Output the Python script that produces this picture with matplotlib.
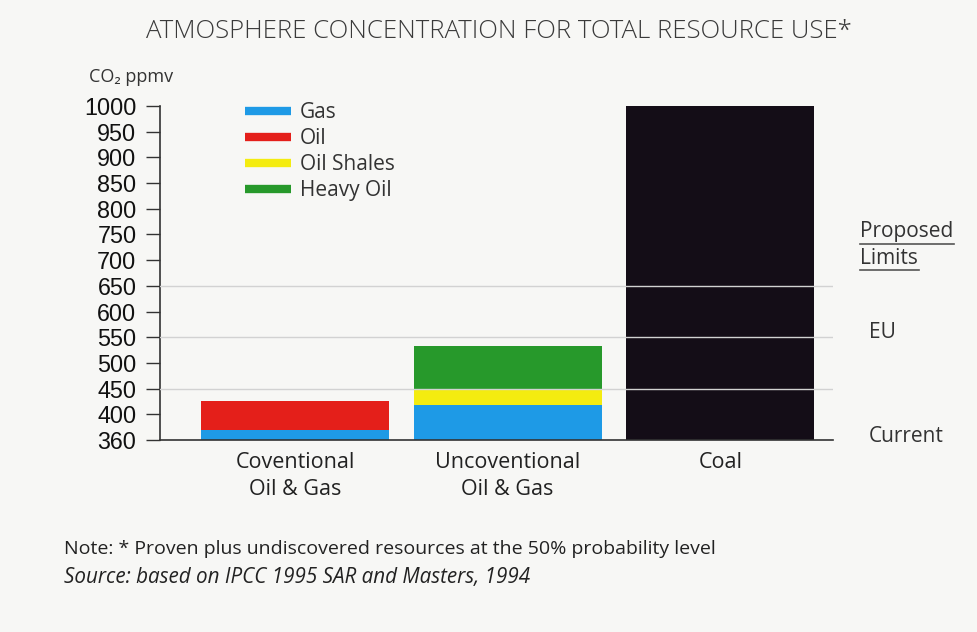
import matplotlib
matplotlib.use("Agg")
import matplotlib.pyplot as plt
import numpy as np
from matplotlib.lines import Line2D

# ---- data ----
categories = ["Coventional\nOil & Gas", "Uncoventional\nOil & Gas", "Coal"]
base = 350  # axis floor (labelled 360 in the original)
gas = [20, 68, 0]
oil = [55, 0, 0]
oil_shales = [0, 30, 0]
heavy_oil = [0, 85, 0]
coal = [0, 0, 650]
tick_values = [350, 400, 450, 500, 550, 600, 650, 700, 750, 800, 850, 900, 950, 1000]
tick_labels = ["360", "400", "450", "500", "550", "600", "650", "700", "750",
               "800", "850", "900", "950", "1000"]
limit_lines = [450, 550, 650]
series_names = ["Gas", "Oil", "Oil Shales", "Heavy Oil"]

c_gas = "#1e9ae6"
c_oil = "#e41f1a"
c_shale = "#f4ec10"
c_heavy = "#27992b"
c_coal = "#140d17"
bg = "#f7f7f5"

HUM = ["Open Sans", "DejaVu Sans"]
TICK = ["Liberation Sans", "DejaVu Sans"]

fig = plt.figure(figsize=(9.78, 6.32), dpi=100, facecolor=bg)
ax = fig.add_axes([160/978, 1-440/632, (833-160)/978, (440-106)/632])
ax.set_facecolor(bg)

x = np.arange(len(categories))
w = 0.885
bottom = np.full(len(categories), base, dtype=float)
for vals, col in [(gas, c_gas), (oil, c_oil), (oil_shales, c_shale), (heavy_oil, c_heavy), (coal, c_coal)]:
    v = np.array(vals, dtype=float)
    ax.bar(x, v, w, bottom=bottom, color=col, zorder=2, linewidth=0)
    bottom += v

for y in limit_lines:
    ax.axhline(y, color="#d2d2d2", lw=1.0, zorder=3)

ax.set_ylim(350, 1000)
ax.set_xlim(-0.635, 2.53)
ax.set_yticks(tick_values)
ax.set_yticklabels(tick_labels, fontfamily=TICK, fontsize=16.8, color="#111111")
ax.tick_params(axis="y", length=10, width=1, color="#333333", pad=7)
ax.set_xticks(x)
ax.set_xticklabels(categories, fontfamily=HUM, fontsize=15.5, color="#222222", linespacing=1.35)
ax.tick_params(axis="x", length=0, pad=9)
for s in ["top", "right"]:
    ax.spines[s].set_visible(False)
for s in ["left", "bottom"]:
    ax.spines[s].set_color("#333333")
    ax.spines[s].set_linewidth(1.2)

handles = [Line2D([0], [0], color=c, lw=6, solid_capstyle="butt") for c in [c_gas, c_oil, c_shale, c_heavy]]
ax.legend(handles, series_names, loc="upper left", bbox_to_anchor=(245/978, 1-102/632),
          bbox_transform=fig.transFigure, frameon=False, borderpad=0, borderaxespad=0,
          handlelength=2.2, handletextpad=0.45, labelspacing=0.24,
          prop={"family": HUM, "size": 15}, labelcolor="#333333")

fig.text(499/978, 1-31/632, "ATMOSPHERE CONCENTRATION FOR TOTAL RESOURCE USE*",
         ha="center", va="center", fontfamily=HUM, fontsize=18.5, fontweight="light",
         color="#3a3a3a")
fig.text(89/978, 1-77/632, "CO₂ ppmv", ha="left", va="center", fontfamily=HUM,
         fontsize=13, color="#333333")

# right-hand annotations
fig.text(860/978, 1-232/632, "Proposed", ha="left", va="center", fontfamily=HUM, fontsize=15, color="#333333")
fig.text(860/978, 1-259/632, "Limits", ha="left", va="center", fontfamily=HUM, fontsize=15, color="#333333")
fig.add_artist(Line2D([860/978, 954/978], [1-244/632, 1-244/632], color="#555555", lw=1.2))
fig.add_artist(Line2D([860/978, 919/978], [1-270/632, 1-270/632], color="#555555", lw=1.2))
fig.text(869/978, 1-333/632, "EU", ha="left", va="center", fontfamily=HUM, fontsize=15, color="#333333")
fig.text(869/978, 1-437/632, "Current", ha="left", va="center", fontfamily=HUM, fontsize=15, color="#333333")

fig.text(64/978, 1-549/632, "Note: * Proven plus undiscovered resources at the 50% probability level",
         ha="left", va="center", fontfamily=HUM, fontsize=14.0, color="#222222")
fig.text(64/978, 1-578/632, "Source: based on IPCC 1995 SAR and Masters, 1994",
         ha="left", va="center", fontfamily=HUM, fontsize=14.9, style="italic", color="#222222")

fig.savefig("out.png", dpi=100, facecolor=bg)
